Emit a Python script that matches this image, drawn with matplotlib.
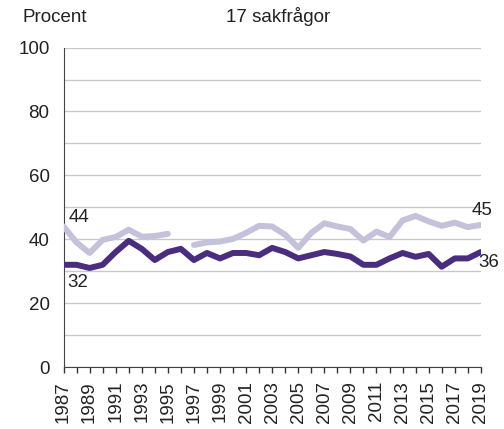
import numpy as np
import matplotlib
matplotlib.use("Agg")
import matplotlib.pyplot as plt

plt.rcParams['font.family'] = ['Liberation Sans', 'DejaVu Sans']

years = np.arange(1987, 2020)

# dark line, continuous
dark = [32, 32, 31, 32, 36, 39.5, 37, 33.5, 36, 37, 33.5, 35.7, 34, 35.7, 35.7, 35,
        37.3, 36, 34, 35, 36, 35.4, 34.6, 32, 32, 34, 35.7, 34.5, 35.4, 31.4, 34, 34, 36]

# light line, missing 1996
light = [44, 39, 35.7, 39.8, 40.7, 43, 40.8, 41, 41.7, np.nan, 38.2, 39, 39.3, 40.1, 42,
         44.2, 44, 41.4, 37.3, 42, 45, 44, 43.2, 39.6, 42.4, 40.7, 45.9, 47.3, 45.6,
         44.2, 45.2, 43.8, 44.5]

dark_col = '#4b2d80'
light_col = '#c6c1da'
txt_col = '#222222'

fig = plt.figure(figsize=(5.04, 4.29), dpi=100)
ax = fig.add_axes([0.126, 0.1445, 0.828, 0.7445])

ax.plot(years, light, color=light_col, lw=4.3, solid_capstyle='round', solid_joinstyle='round', zorder=3)
ax.plot(years, dark, color=dark_col, lw=4.3, solid_capstyle='round', solid_joinstyle='round', zorder=4)

ax.set_xlim(1987, 2019)
ax.set_ylim(0, 100)

ax.set_yticks(np.arange(0, 101, 20))
ax.set_yticks(np.arange(0, 101, 10), minor=True)
ax.yaxis.grid(True, which='both', color='#c8c8c8', lw=1)
ax.tick_params(axis='y', which='both', length=0, labelsize=13.5, labelcolor=txt_col, pad=10)

ax.set_xticks(years, minor=True)
ax.set_xticks(years[::2])
ax.set_xticklabels([str(y) for y in years[::2]], rotation=90)
ax.tick_params(axis='x', which='both', direction='out', length=4, width=1, color='#333333',
               labelsize=13.5, labelcolor=txt_col, pad=6)

for s in ['top', 'right']:
    ax.spines[s].set_visible(False)
ax.spines['left'].set_color('#444444')
ax.spines['bottom'].set_color('#444444')
ax.set_axisbelow(True)

# value labels
ax.text(1987.4, 46.7, '44', fontsize=13.5, color=txt_col, va='center', ha='left')
ax.text(1987.3, 26.6, '32', fontsize=13.5, color=txt_col, va='center', ha='left')
ax.text(2019.1, 48.9, '45', fontsize=13.5, color=txt_col, va='center', ha='center')
ax.text(2018.8, 32.6, '36', fontsize=13.5, color=txt_col, va='center', ha='left')

fig.text(22 / 504, 1 - 17 / 429, 'Procent', fontsize=13.5, color=txt_col, va='center', ha='left')
fig.text(278 / 504, 1 - 17 / 429, '17 sakfrågor', fontsize=13.5, color=txt_col, va='center', ha='center')

for t in ax.texts:
    t.set_clip_on(False)

fig.savefig('out.png', dpi=100)
